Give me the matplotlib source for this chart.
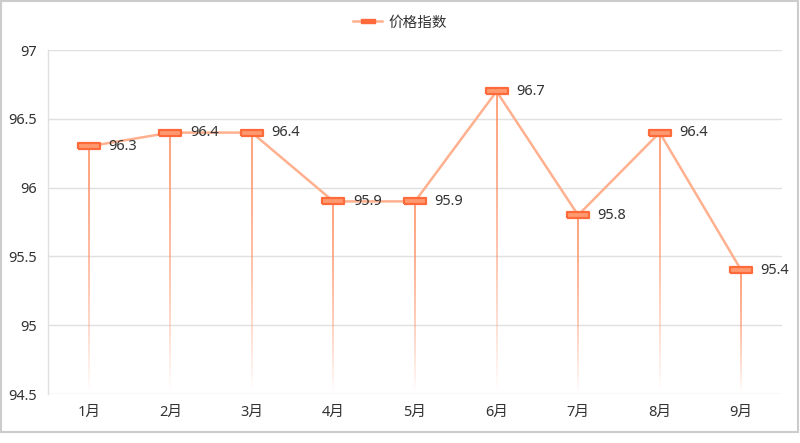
import matplotlib
matplotlib.use("Agg")
import matplotlib.pyplot as plt
import numpy as np
from matplotlib.collections import LineCollection
from matplotlib.patches import Rectangle
from matplotlib.lines import Line2D

plt.rcParams['font.family'] = ['Noto Sans', 'Noto Sans CJK SC', 'DejaVu Sans']

categories = ['1月', '2月', '3月', '4月', '5月', '6月', '7月', '8月', '9月']
values = [96.3, 96.4, 96.4, 95.9, 95.9, 96.7, 95.8, 96.4, 95.4]
series_name = '价格指数'
y_ticks = [94.5, 95, 95.5, 96, 96.5, 97]
y_tick_labels = ['94.5', '95', '95.5', '96', '96.5', '97']

line_color = '#FFB08E'
marker_face = '#FF9A70'
marker_edge = '#FF6A3A'
drop_color = '#FF8A5C'
text_color = '#333333'
grid_color = '#E0E0E0'

fig = plt.figure(figsize=(8, 4.43), dpi=100)
ax = fig.add_axes([0.06, 0.1106, 0.9175, 0.7764])

x = np.arange(len(categories))
ymin, ymax = 94.5, 97

# drop lines with fading gradient
for xi, v in zip(x, values):
    n = 100
    ys = np.linspace(v, ymin, n + 1)
    segs = [[(xi, ys[i]), (xi, ys[i + 1])] for i in range(n)]
    t = np.linspace(0, 1, n)
    alphas = np.clip(1.0 - t ** 1.6, 0, 1)
    cols = [matplotlib.colors.to_rgba(drop_color, a) for a in alphas]
    lc = LineCollection(segs, colors=cols, linewidths=1.1, zorder=2,
                        capstyle='butt')
    ax.add_collection(lc)

rect = [(-1, -0.27), (1, -0.27), (1, 0.27), (-1, 0.27), (-1, -0.27)]
ax.plot(x, values, color=line_color, linewidth=1.8, zorder=3)
ax.plot(x, values, linestyle='none', marker=rect, markersize=16,
        markerfacecolor=marker_face, markeredgecolor=marker_edge,
        markeredgewidth=1.6, zorder=4)

for xi, v in zip(x, values):
    ax.annotate(f'{v:g}', (xi, v), xytext=(14, 0), textcoords='offset points',
                ha='left', va='center', fontsize=10.5, color=text_color, zorder=5)

ax.set_xlim(-0.5, len(categories) - 0.5)
ax.set_ylim(ymin, ymax)
ax.set_xticks(x)
ax.set_xticklabels(categories)
ax.set_yticks(y_ticks)
ax.set_yticklabels(y_tick_labels)
ax.tick_params(axis='both', length=0, labelsize=10.5, labelcolor=text_color)
ax.tick_params(axis='x', pad=8)
ax.tick_params(axis='y', pad=8)
ax.grid(axis='y', color=grid_color, linewidth=1)
ax.set_axisbelow(True)
for s in ['top', 'right']:
    ax.spines[s].set_visible(False)
ax.spines['bottom'].set_visible(False)
ax.spines['left'].set_color(grid_color)
ax.spines['left'].set_linewidth(1)

handle = Line2D([0], [0], color=line_color, linewidth=1.8, marker=rect,
                markersize=10, markerfacecolor=marker_edge,
                markeredgecolor=marker_edge, markeredgewidth=1)
fig.legend([handle], [series_name], loc='center', bbox_to_anchor=(0.5, 0.948),
           frameon=False, fontsize=10.5, handlelength=2.0, handletextpad=0.4,
           labelcolor=text_color)

# figure border
border = Rectangle((0.75, 443 - 432.25), 797.5, 431.5, fill=False,
                   edgecolor='#CCCCCC', linewidth=1.5)
border.set_transform(matplotlib.transforms.IdentityTransform())
fig.patches.append(border)

fig.savefig('out.png', dpi=100)
